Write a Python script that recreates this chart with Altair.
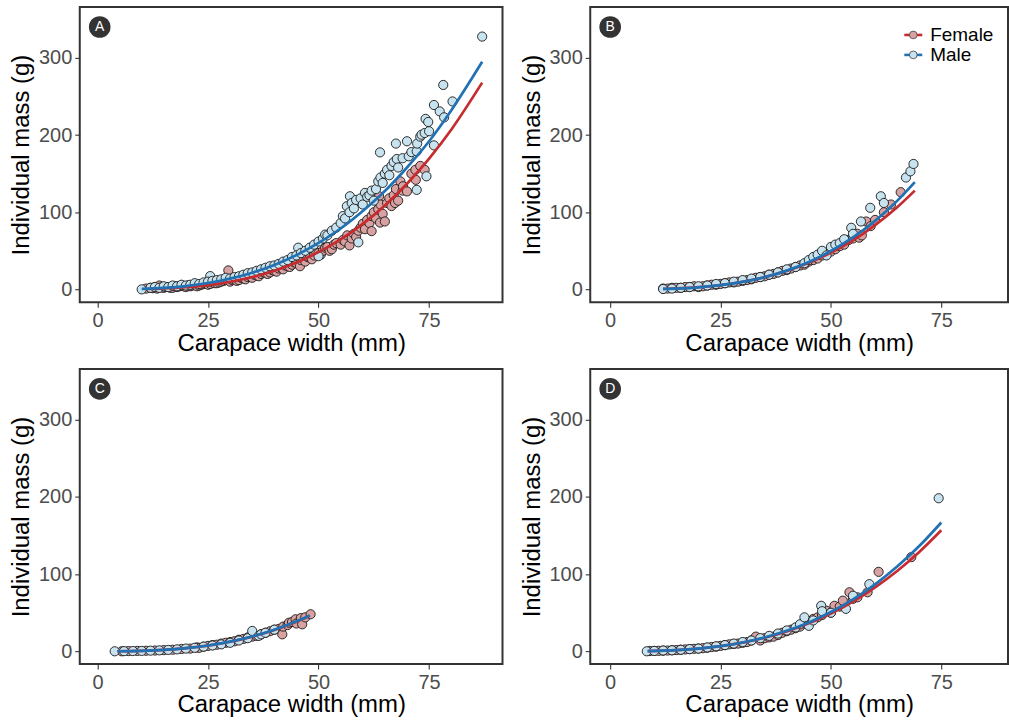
import altair as alt
import pandas as pd

SEXES = ["Female", "Male"]
FILL_COLORS = ["#D9A2A2", "#C6E3EF"]
LINE_COLORS = ["#C62B2F", "#2171B5"]
PANEL_LABELS = ["A", "B", "C", "D"]
X_TICKS = [0, 25, 50, 75]
Y_TICKS = [0, 100, 200, 300]
X_TITLE = "Carapace width (mm)"
Y_TITLE = "Individual mass (g)"

# ---------------- Panel A ----------------
A_FEMALE = [(11, 1), (12, 2), (12.5, 1.5), (13, 3), (13.5, 1), (14, 5), (14.5, 2.5), (15, 2), (15.5, 3),
            (16, 3), (16.5, 2), (17, 2), (17.5, 4), (18, 3), (18.5, 4), (19, 5), (19.5, 4), (20, 3),
            (20.5, 5), (21, 4), (21.5, 5), (22, 6), (22.5, 4), (23, 5), (23.5, 6), (24, 7), (24.5, 8),
            (25, 6), (25.5, 7), (26, 9), (26.5, 8), (27, 8), (27.5, 9), (28, 10), (28.5, 11), (29, 12),
            (29.6, 24.6), (30, 10), (30.5, 12), (31, 13), (31.5, 11), (32, 12), (32.5, 15), (33, 14),
            (33.5, 13), (34, 16), (34.5, 17), (35, 15), (35.5, 19), (36, 18), (36.5, 17), (37, 20),
            (37.5, 22), (38, 21), (38.5, 20), (39, 22), (39.5, 25), (40, 24), (40.5, 23), (41, 27),
            (41.5, 28), (42, 26), (42.5, 31), (43, 30), (43.5, 29), (44, 32), (44.5, 35), (45, 34),
            (45.8, 30), (46, 38), (46.5, 40), (47, 36), (47.5, 42), (48, 41), (48.5, 39), (49, 44),
            (49.5, 48), (50, 47), (50.5, 45), (51, 50), (51.5, 54), (52, 55), (52.5, 50), (53, 52),
            (53.5, 58), (54, 60), (55, 58), (55.5, 64), (56, 62), (56.5, 70), (57, 57), (57.5, 66), (58, 72),
            (58.5, 68), (59, 76), (59.5, 80), (60, 85), (60.5, 78), (61, 90), (61.5, 86), (62, 95), (62, 75.5),
            (62.5, 100), (63, 92), (63.5, 104), (63.7, 120.7), (63.9, 86.6), (64, 110), (64.5, 98),
            (65, 88), (65.5, 112), (66, 118), (66.5, 108), (67, 122), (67.3, 112), (67.5, 130), (68, 115),
            (68.5, 140), (69, 128), (69.1, 133.6), (70, 127), (71, 150), (71.9, 155), (72, 142), (73, 160), (74, 155)]
A_MALE = [(10, 0), (12, 2), (13, 3), (14, 2), (15, 4), (16, 3), (17, 5), (18, 4), (19, 6), (20, 5),
          (21, 6), (22, 8), (23, 7), (24, 9), (25.5, 17.2), (25, 10), (26, 11), (27, 12), (28, 13), (29, 15),
          (30, 14), (31, 16), (32, 17), (33, 19), (34, 21), (35, 22), (36, 24), (37, 26), (38, 28), (39, 30),
          (40, 31), (41, 33), (42, 36), (43, 38), (44, 42), (45.4, 54), (45, 44), (46, 47), (47, 50),
          (48, 54), (49, 58), (50, 43), (50, 62), (51, 66), (51.5, 71), (52, 70), (53, 76), (54, 80),
          (55, 86), (55.5, 95), (56, 92), (56.4, 107.8), (57, 100), (57.1, 120.7), (57.5, 112), (58, 105),
          (58.5, 116), (59, 61), (59.5, 118), (60, 110), (60.5, 125), (61, 120), (61.5, 122), (62, 128),
          (62.5, 115), (63, 130), (63.5, 140), (63.9, 177.6), (64, 145), (64.5, 138), (65, 150), (65.5, 155),
          (66, 148), (66.5, 160), (67, 165), (67.5, 189), (67.7, 169), (68, 158), (69, 170), (70, 192),
          (70.4, 172.5), (71, 178), (72.2, 129), (72.2, 179), (72.3, 189), (73, 198), (73.3, 200.5),
          (74, 202.7), (74.2, 221), (74.4, 146.6), (74.8, 217), (75, 205), (76.1, 186.7), (76.1, 239),
          (77.4, 230.7), (78.2, 265), (78.4, 223), (80.3, 243.6), (87, 327.7)]
A_FEMALE_FIT = [(11, 0.44), (15, 1.16), (20, 2.8), (25, 5.6), (30, 9.9), (35, 16.0), (40, 24.2), (45, 34.8),
                (50, 48.3), (55, 64.8), (60, 84.9), (65, 108.8), (70, 136.9), (75, 169.5), (80, 207), (87, 268)]
A_MALE_FIT = [(10, 0.59), (15, 1.9), (20, 4.3), (25, 8.2), (30, 13.9), (35, 21.6), (40, 31.7), (45, 44.4),
              (50, 60.2), (55, 78.9), (60, 101.6), (65, 127.5), (70, 158), (75, 192), (80, 232), (87, 295)]

# ---------------- Panel B ----------------
B_FEMALE = [(12, 1), (13, 1), (14, 2), (15, 2), (16, 2), (17, 3), (18, 3), (19, 4), (20, 3), (21, 4),
            (22, 5), (23, 6), (24, 6), (25, 7), (26, 8), (27, 9), (28, 9), (29, 10), (30, 11), (31, 12),
            (32, 13), (33, 15), (34, 16), (35, 17), (36, 19), (37, 20), (38, 22), (39, 24), (40, 25),
            (41, 27), (42, 29), (43, 31), (44, 32), (45, 36), (46, 38), (47, 40), (48, 44), (49, 46),
            (50, 49), (51, 52), (52, 56), (53, 58), (54, 64), (55, 66), (56, 72), (56.4, 67), (57, 70),
            (58, 88), (59, 82), (60, 90), (62, 100), (63.6, 110), (65.8, 126)]
B_MALE = [(12, 0.5), (14, 1), (16, 2), (18, 3), (20, 4), (22, 5), (24, 7), (26, 8), (28, 10), (30, 12),
          (32, 14), (34, 16), (36, 19), (38, 22), (40, 26), (42, 29), (44, 34), (45, 38), (46, 42), (47, 45),
          (48, 50), (49, 44), (50, 55), (51, 58), (52, 60), (53, 65), (54.6, 79.8), (55, 72), (56.8, 88),
          (58.9, 105.7), (61.3, 120.7), (62, 112), (67, 145), (68, 153), (68.7, 162.6)]
B_FEMALE_FIT = [(12, 0.59), (15, 1.18), (20, 2.86), (25, 5.67), (30, 9.9), (35, 15.9), (40, 24.0),
                (45, 34.5), (50, 47.6), (55, 63.5), (60, 83.3), (65, 106.5), (69, 128)]
B_MALE_FIT = [(12, 0.52), (15, 1.05), (20, 2.65), (25, 5.4), (30, 9.7), (35, 15.8), (40, 24.3),
              (45, 35.5), (50, 49.7), (55, 67.3), (60, 88.8), (65, 114.7), (69, 139)]

# ---------------- Panel C ----------------
C_FEMALE = [(5.5, 0), (7, 0.3), (9, 0.5), (11, 0.7), (13, 1), (15, 1.5), (17, 2), (19, 3), (21, 3.5),
            (22.5, 5), (23, 4.5), (24, 6), (25, 7), (26, 8), (27, 8.5), (28, 10), (29, 11), (30, 12),
            (31, 13), (32, 15), (33, 16), (34, 18), (35, 19), (36, 20), (37, 22), (38, 24), (39, 26),
            (40, 28), (41, 29), (41.8, 22), (42, 32), (43, 34), (43.3, 37), (44, 38), (44.8, 41.5),
            (45, 36), (46, 43), (46.3, 35), (47, 44), (48.2, 48)]
C_MALE = [(3.9, 0), (6, 0.2), (8, 0.3), (10, 0.5), (12, 0.8), (14, 1.2), (16, 1.8), (18, 2.5), (20, 3.5),
          (22, 4.5), (24, 6), (26, 7.5), (28, 9), (30, 11), (32, 14), (34, 17), (35, 26.4), (36.5, 20),
          (37, 22), (38, 24), (40, 28)]
C_FEMALE_FIT = [(4.5, 0.07), (10, 0.6), (15, 1.8), (20, 4.0), (25, 7.4), (30, 12.3), (35, 19.0),
                (40, 27.6), (45, 38.4), (48, 46.2)]
C_MALE_FIT = [(4.5, 0.06), (10, 0.58), (15, 1.79), (20, 4.0), (25, 7.5), (30, 12.5), (35, 19.2),
              (40, 27.9), (45, 38.8), (48, 46.5)]

# ---------------- Panel D ----------------
D_FEMALE = [(9, 0.3), (10, 0.5), (11, 0.6), (12, 0.8), (13, 1), (14, 1.3), (15, 1.6), (16, 2), (17, 2.4),
            (18, 2.8), (19, 3.2), (20, 3.6), (21, 4), (22, 4.6), (23, 5.5), (24, 6), (25, 7), (26, 8),
            (27, 9), (28, 9.5), (29, 10), (30, 11), (31, 12), (32, 14), (33, 19), (34, 14), (35, 17),
            (36, 18), (37, 19), (38, 21), (39, 24), (40, 26), (41, 28), (42, 30), (43, 32), (44, 36),
            (45, 38), (46, 42), (47, 44), (48, 47), (49, 52.6), (50, 50), (50.8, 59), (52, 58),
            (52.7, 65.6), (54.2, 76.5), (55, 68), (56, 70), (58.3, 76.5), (60.8, 103), (68.2, 122)]
D_MALE = [(8.3, 0), (10, 0.5), (12, 1), (14, 1.3), (16, 2), (18, 2.8), (20, 3.5), (22, 5), (24, 6.5),
          (26, 8), (28, 10), (30, 12), (32, 14), (34, 17), (36, 20), (38, 23), (40, 27), (42, 31), (43, 35),
          (44, 44), (45, 33), (46, 40), (47.8, 59), (48, 52), (50, 50), (53.4, 55), (55, 72), (58.7, 87),
          (74.4, 198.4)]
D_FEMALE_FIT = [(8.5, 0.3), (15, 1.55), (20, 3.53), (25, 6.71), (30, 11.3), (35, 17.6), (40, 25.8),
                (45, 36.2), (50, 49.0), (55, 64.5), (60, 82.8), (65, 104.1), (70, 128.8), (75, 157)]
D_MALE_FIT = [(8.5, 0.28), (15, 1.5), (20, 3.47), (25, 6.68), (30, 11.4), (35, 17.9), (40, 26.5),
              (45, 37.4), (50, 50.9), (55, 67.3), (60, 86.8), (65, 109.8), (70, 136.4), (75, 167)]

FONT = "Liberation Sans"


def frame(female, male):
    rows = [{"cw": x, "mass": y, "sex": "Female"} for x, y in female]
    rows += [{"cw": x, "mass": y, "sex": "Male"} for x, y in male]
    return pd.DataFrame(rows)


def panel(label, pts, fits, width, xdom, legend=False):
    xs = alt.Scale(domain=xdom, nice=False, zero=False)
    ys = alt.Scale(domain=[-16.6, 366], nice=False, zero=False)
    xenc = alt.X("cw:Q", scale=xs, axis=alt.Axis(values=X_TICKS, title=X_TITLE, titlePadding=1))
    yenc = alt.Y("mass:Q", scale=ys, axis=alt.Axis(values=Y_TICKS, title=Y_TITLE, titlePadding=5))
    fill = alt.Fill("sex:N", scale=alt.Scale(domain=SEXES, range=FILL_COLORS), legend=None)
    stroke = alt.Stroke("sex:N", scale=alt.Scale(domain=SEXES, range=LINE_COLORS), legend=None)

    points = alt.Chart(frame(*pts)).mark_circle(
        size=85, stroke="#1a1a1a", strokeWidth=1.0, strokeOpacity=0.9, opacity=1, clip=True
    ).encode(x=xenc, y=yenc, fill=fill)
    lines = alt.Chart(frame(*fits)).mark_line(strokeWidth=2.7, clip=True, interpolate="monotone").encode(
        x=xenc, y=yenc, stroke=stroke, order="cw:Q"
    )
    lab = pd.DataFrame({"lab": [label]})
    badge = alt.Chart(lab).mark_circle(size=470, color="#333333", opacity=1).encode(
        x=alt.value(20), y=alt.value(20)
    )
    badge_t = alt.Chart(lab).mark_text(color="white", fontSize=14, font=FONT, baseline="middle",
                                       align="center").encode(
        x=alt.value(20), y=alt.value(20.5), text="lab:N"
    )
    layers = [points, lines, badge, badge_t]
    if legend:
        for i, s in enumerate(SEXES):
            d = pd.DataFrame({"sex": [s]})
            yy = 28 + 20 * i
            layers.append(alt.Chart(d).mark_rule(strokeWidth=2.6).encode(
                x=alt.value(315), x2=alt.value(333), y=alt.value(yy), stroke=stroke))
            layers.append(alt.Chart(d).mark_circle(size=60, stroke="#555555", strokeWidth=0.9,
                                                   opacity=1).encode(
                x=alt.value(324), y=alt.value(yy), fill=fill))
            layers.append(alt.Chart(d).mark_text(align="left", baseline="middle", fontSize=19,
                                                 font=FONT, color="black").encode(
                x=alt.value(341), y=alt.value(yy), text="sex:N"))
    return alt.layer(*layers).properties(width=width, height=296)


pA = panel(PANEL_LABELS[0], (A_FEMALE, A_MALE), (A_FEMALE_FIT, A_MALE_FIT), 424, [-4.0, 91.6])
pB = panel(PANEL_LABELS[1], (B_FEMALE, B_MALE), (B_FEMALE_FIT, B_MALE_FIT), 419, [-4.5, 90.1], legend=True)
pC = panel(PANEL_LABELS[2], (C_FEMALE, C_MALE), (C_FEMALE_FIT, C_MALE_FIT), 424, [-4.0, 91.6])
pD = panel(PANEL_LABELS[3], (D_FEMALE, D_MALE), (D_FEMALE_FIT, D_MALE_FIT), 419, [-4.5, 90.1])

row1 = alt.hconcat(pA, pB, spacing=15)
row2 = alt.hconcat(pC, pD, spacing=15)
chart = alt.vconcat(row1, row2, spacing=12).properties(
    padding={"left": 8, "top": 5, "right": 0, "bottom": 0}
).configure_view(
    stroke="#333333", strokeWidth=2
).configure_axis(
    grid=False, domain=False, labelFont=FONT, titleFont=FONT, labelFontSize=20,
    labelColor="#4D4D4D", titleFontSize=24, titleColor="black", titleFontWeight="normal",
    tickColor="#333333", tickSize=5, tickWidth=1.1, labelPadding=3
).configure_scale(
    continuousPadding=0
)

chart.save("out.html", embed_options={"renderer": "svg", "actions": False})
